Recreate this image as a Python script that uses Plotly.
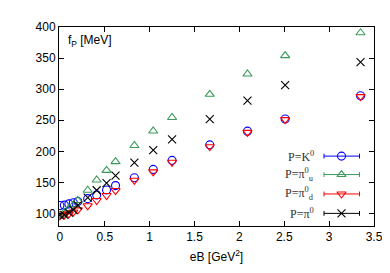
import plotly.graph_objects as go

# eB values [GeV^2]
eB = [0, 0.05, 0.1, 0.15, 0.2, 0.31, 0.41, 0.52, 0.62, 0.83, 1.04, 1.25, 1.67, 2.09, 2.51, 3.35]

# f_P [MeV]
f_K0 = [113, 113.5, 115.5, 117.5, 119.5, 124, 130, 138, 145, 157.5, 171, 185.5, 210.5, 232.5, 252, 289.5]
f_pi_u = [97, 102, 108, 114, 121, 137.5, 154, 169.5, 183.5, 209.5, 232.8, 254.5, 291.8, 324.4, 353.9, 390.7]
f_pi_d = [96.5, 97.5, 99.5, 102.5, 106, 112.5, 121, 129, 137, 153.5, 167, 182.5, 207.5, 230.5, 251, 288]
f_pi0 = [97, 98, 101.5, 106, 113, 125.5, 137.5, 149, 161, 182, 202, 219.4, 252, 281.5, 306.4, 343.6]

labels = ["P=K<sup>0</sup>", "P=π<sup>0</sup><sub>u</sub>", "P=π<sup>0</sup><sub>d</sub>", "P=π<sup>0</sup>"]
series = [f_K0, f_pi_u, f_pi_d, f_pi0]
colors = ["#0000ff", "#3a9a5a", "#ff0000", "#000000"]
symbols = ["circle-open", "triangle-up-open", "triangle-down-open", "x-thin-open"]
sizes = [8, 8, 8, 8]

x_ticks = [0, 0.5, 1, 1.5, 2, 2.5, 3, 3.5]
y_ticks = [100, 150, 200, 250, 300, 350, 400]

fig = go.Figure()
for s, c, sym, sz in zip(series, colors, symbols, sizes):
    fig.add_trace(go.Scatter(
        x=eB, y=s, mode="markers", showlegend=False,
        marker=dict(symbol=sym, size=sz, color=c, line=dict(color=c, width=1.1)),
    ))

# Custom gnuplot-style key (text left, errorbar sample right)
L, R, T, B = 51, 366, 13, 218
def px(x):
    return (x - L) / (R - L)
def py(y):
    return (B - y) / (B - T)

rows = [146, 165, 185, 205]
for lab, c, sym, sz, r in zip(labels, colors, symbols, sizes, rows):
    fig.add_annotation(x=px(308), y=py(r), xref="paper", yref="paper",
                       text=lab, showarrow=False, xanchor="right", yanchor="middle",
                       font=dict(family="Liberation Serif", size=12, color="#333333"))
    fig.add_shape(type="line", xref="paper", yref="paper",
                  x0=px(316), x1=px(351.5), y0=py(r), y1=py(r),
                  line=dict(color=c, width=1))
    for xe in (316, 351.5):
        fig.add_shape(type="line", xref="paper", yref="paper",
                      x0=px(xe), x1=px(xe), y0=py(r - 2.5), y1=py(r + 2.5),
                      line=dict(color=c, width=1))
    fig.add_trace(go.Scatter(
        x=[px(333.5)], y=[py(r)], xaxis="x2", yaxis="y2", mode="markers",
        showlegend=False, hoverinfo="skip",
        marker=dict(symbol=sym, size=sz, color=c, line=dict(color=c, width=1.1)),
    ))

fig.add_annotation(x=px(58), y=py(27), xref="paper", yref="paper",
                   text="f<sub>P</sub> [MeV]", showarrow=False,
                   xanchor="left", yanchor="middle",
                   font=dict(family="Liberation Sans", size=12, color="#000000"))

axis_common = dict(showline=True, linecolor="#000000", linewidth=1, mirror="allticks",
                   ticks="inside", ticklen=5, tickcolor="#000000", tickwidth=1,
                   showgrid=False, zeroline=False,
                   tickfont=dict(family="Liberation Sans", size=12, color="#000000"))

fig.update_layout(
    width=390, height=273,
    margin=dict(l=L, r=390 - R, t=T, b=273 - B),
    paper_bgcolor="white", plot_bgcolor="white",
    xaxis=dict(range=[-0.01, 3.5], tickvals=x_ticks, ticktext=[str(v) if v != int(v) else str(int(v)) for v in x_ticks],
               title=dict(text="eB [GeV<sup>2</sup>]", standoff=9,
                          font=dict(family="Liberation Sans", size=12, color="#000000")),
               **axis_common),
    yaxis=dict(range=[80, 400], tickvals=y_ticks, **axis_common),
    xaxis2=dict(range=[0, 1], overlaying="x", visible=False, domain=[0, 1]),
    yaxis2=dict(range=[0, 1], overlaying="y", visible=False, domain=[0, 1]),
    showlegend=False,
)

fig.write_html("out.html")
